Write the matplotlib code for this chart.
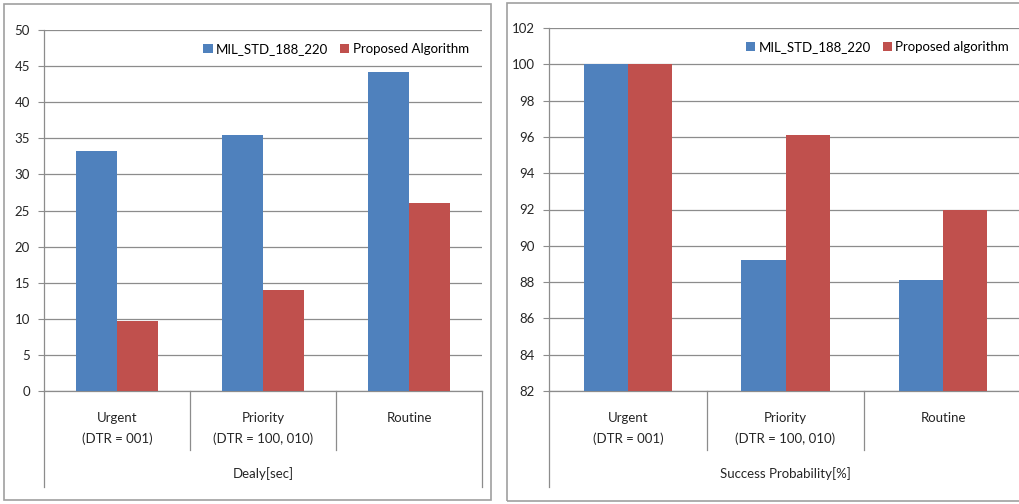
import numpy as np
import matplotlib
matplotlib.use("Agg")
import matplotlib.pyplot as plt
from matplotlib.patches import Rectangle
from matplotlib.transforms import blended_transform_factory


W, H = 1019, 504

categories = ["Urgent\n(DTR = 001)", "Priority\n(DTR = 100, 010)", "Routine"]

delay_mil = [33.2, 35.5, 44.2]
delay_prop = [9.7, 14.0, 26.0]

succ_mil = [100.0, 89.2, 88.1]
succ_prop = [100.0, 96.1, 92.0]

BLUE = "#4F81BD"
RED = "#C0504D"
GRID = "#8C8C8C"
TEXT = "#262626"

plt.rcParams["font.family"] = ["Lato", "DejaVu Sans"]
plt.rcParams["font.size"] = 9.5


def px_box(x0, y0, x1, y1):
    # pixel box (top-left origin) -> figure fraction [l, b, w, h]
    return [x0 / W, (H - y1) / H, (x1 - x0) / W, (y1 - y0) / H]


def draw_panel(fig, box):
    l, b, w, h = px_box(*box)
    fig.patches.append(Rectangle((l, b), w, h, transform=fig.transFigure,
                                 fill=False, edgecolor="#A0A0A0", lw=1.2))


def bar_chart(ax, mil, prop, labels, ylim, step, xlabel):
    x = np.arange(len(categories))
    bw = 0.28
    ax.bar(x - bw / 2, mil, bw, color=BLUE, label=labels[0], zorder=3)
    ax.bar(x + bw / 2, prop, bw, color=RED, label=labels[1], zorder=3)
    ax.set_xlim(-0.5, len(categories) - 0.5)
    ax.set_ylim(*ylim)
    ax.set_yticks(np.arange(ylim[0], ylim[1] + 0.1, step))
    ax.yaxis.grid(True, color=GRID, lw=0.9)
    ax.set_axisbelow(True)
    for s in ["top", "right"]:
        ax.spines[s].set_visible(False)
    for s in ["left", "bottom"]:
        ax.spines[s].set_color(GRID)
        ax.spines[s].set_linewidth(0.9)
    ax.tick_params(axis="y", length=4, color=GRID, labelcolor=TEXT, pad=6)
    ax.tick_params(axis="x", length=0, labelcolor=TEXT, pad=15)
    ax.set_xticks(x)
    ax.set_xticklabels(categories, linespacing=1.85)

    # multi-level category axis lines below the plot
    trans = blended_transform_factory(ax.transData, ax.transAxes)
    axh = ax.get_position().height * H
    for i, xb in enumerate(np.arange(-0.5, len(categories), 1.0)):
        depth = 96 if i in (0, len(categories)) else 59
        ax.plot([xb, xb], [0, -depth / axh], transform=trans, color=GRID,
                lw=0.9, clip_on=False)
    ax.text(1.0, -83 / axh, xlabel, transform=trans, ha="center", va="center",
            color=TEXT)

    ax.legend(loc="upper right", bbox_to_anchor=(1.0, 1.0), ncol=2,
              frameon=False, handlelength=0.7, handleheight=0.7,
              handletextpad=0.25, columnspacing=0.9, borderaxespad=0.6)


fig = plt.figure(figsize=(W / 100, H / 100), dpi=100)

draw_panel(fig, (4, 4, 491, 500))
draw_panel(fig, (507, 3, 1030, 501))

ax1 = fig.add_axes(px_box(44, 30, 482, 391))
bar_chart(ax1, delay_mil, delay_prop, ["MIL_STD_188_220", "Proposed Algorithm"],
          (0, 50), 5, "Dealy[sec]")

ax2 = fig.add_axes(px_box(549, 28, 1022, 391))
bar_chart(ax2, succ_mil, succ_prop, ["MIL_STD_188_220", "Proposed algorithm"],
          (82, 102), 2, "Success Probability[%]")

fig.savefig("out.png", dpi=100)
